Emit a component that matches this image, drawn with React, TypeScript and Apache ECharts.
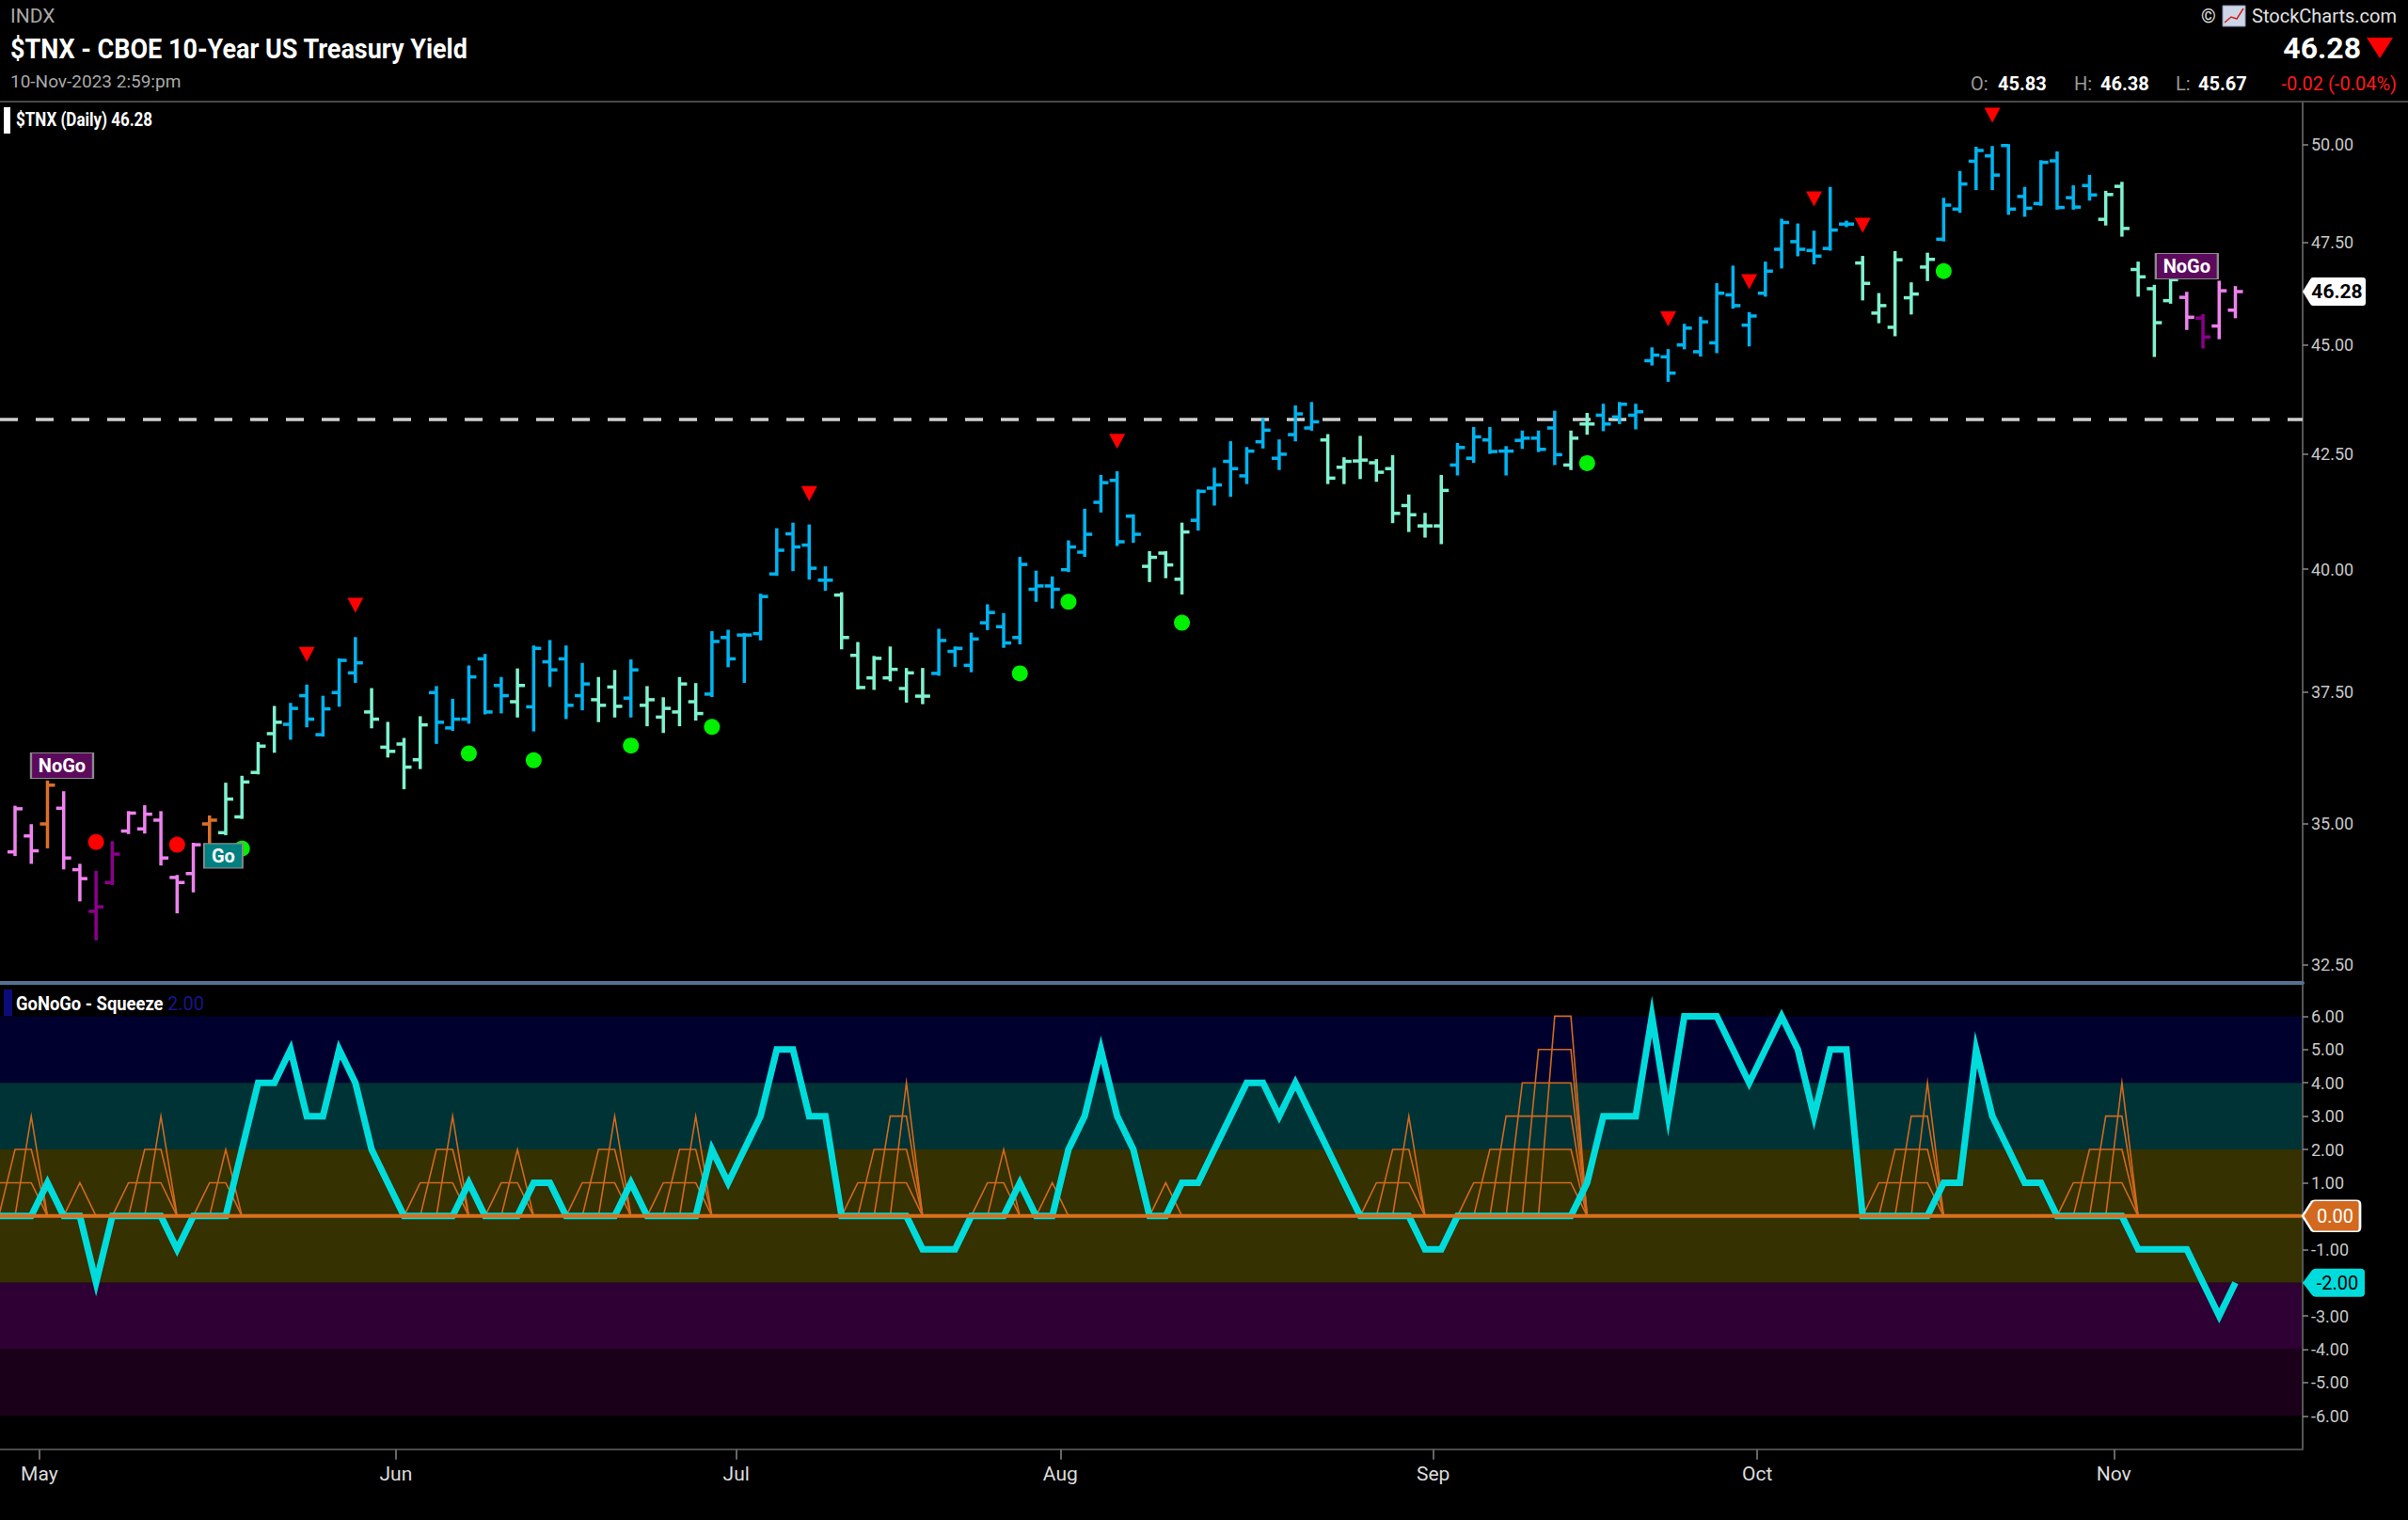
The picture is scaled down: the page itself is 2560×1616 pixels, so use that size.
import React, { useEffect, useRef } from "react";
import * as echarts from "echarts";

const FONT = "Roboto, 'Noto Sans', sans-serif";

// ---- calendar ----
const START_DATE = "2023-04-27";
const END_DATE = "2023-11-10";
const HOLIDAYS = ["2023-05-29", "2023-06-19", "2023-07-04", "2023-09-04"];
const MONTH_NAMES = ["Jan", "Feb", "Mar", "Apr", "May", "Jun", "Jul", "Aug", "Sep", "Oct", "Nov", "Dec"];

// ---- price bars (OHLC) ----
const OPEN = [
  34.48, 34.77, 34.99, 35.28, 34.16, 33.42, 33.93, 34.86, 34.90, 35.06,
  34.02, 34.09, 34.99, 34.83, 35.12, 35.95, 36.69, 36.87, 37.43, 36.67,
  37.49, 37.88, 37.11, 36.43, 36.49, 36.19, 37.49, 36.80, 36.97, 38.16,
  37.63, 37.31, 37.21, 38.10, 38.16, 37.43, 37.35, 37.60, 37.38, 37.24,
  37.01, 37.11, 37.31, 37.46, 38.59, 38.64, 38.67, 39.90, 40.75, 40.51,
  39.77, 39.46, 38.23, 37.78, 37.78, 37.57, 37.42, 37.87, 38.31, 38.03,
  38.89, 38.81, 38.59, 39.58, 39.65, 39.99, 40.36, 41.43, 41.91, 41.13,
  40.06, 40.34, 39.79, 41.04, 41.74, 42.33, 42.01, 42.77, 42.40, 42.93,
  43.08, 42.81, 42.20, 42.34, 42.30, 42.17, 41.36, 40.92, 40.92, 42.25,
  42.40, 42.81, 42.56, 42.80, 42.85, 43.08, 42.25, 43.17, 43.37, 43.33,
  43.37, 44.63, 44.72, 45.00, 44.84, 45.05, 46.20, 45.47, 46.24, 47.32,
  47.51, 47.29, 47.34, 47.95, 46.98, 45.76, 45.42, 46.13, 46.88, 47.57,
  48.33, 49.56, 49.70, 49.97, 48.65, 48.47, 49.57, 48.62, 48.93, 48.07,
  48.91, 46.82, 46.35, 46.06, 46.14, 45.64, 45.45, 45.83,
];
const HIGH = [
  35.30, 34.96, 35.77, 35.57, 34.24, 34.11, 34.65, 35.20, 35.31, 35.20,
  34.04, 34.62, 35.12, 35.73, 35.86, 36.50, 37.20, 37.26, 37.62, 37.40,
  38.14, 38.57, 37.55, 36.89, 36.58, 37.00, 37.59, 37.34, 38.00, 38.23,
  37.77, 37.94, 38.40, 38.51, 38.40, 38.05, 37.77, 37.91, 38.12, 37.59,
  37.37, 37.77, 37.65, 38.69, 38.72, 38.65, 39.46, 40.84, 40.96, 40.92,
  40.03, 39.49, 38.47, 38.19, 38.38, 37.95, 37.95, 38.74, 38.38, 38.66,
  39.24, 39.06, 40.23, 39.94, 39.82, 40.58, 41.26, 42.00, 42.08, 41.14,
  40.35, 40.35, 40.96, 41.68, 42.16, 42.75, 42.62, 43.27, 42.79, 43.56,
  43.64, 42.91, 42.39, 42.87, 42.35, 42.44, 41.57, 41.17, 42.00, 42.71,
  43.07, 43.07, 42.64, 42.99, 42.99, 43.44, 42.99, 43.39, 43.60, 43.64,
  43.60, 44.91, 44.87, 45.47, 45.64, 46.45, 46.88, 45.75, 46.98, 48.05,
  47.93, 47.75, 48.86, 48.00, 47.12, 46.21, 47.24, 46.47, 47.20, 48.58,
  49.27, 49.90, 49.92, 49.97, 48.86, 49.55, 49.78, 48.90, 49.17, 48.76,
  48.99, 46.98, 46.41, 46.64, 46.24, 45.70, 46.51, 46.38,
];
const LOW = [
  34.43, 34.29, 34.57, 34.19, 33.62, 32.94, 33.91, 34.83, 34.84, 34.26,
  33.41, 33.78, 34.63, 34.81, 35.11, 35.94, 36.35, 36.60, 36.84, 36.66,
  37.24, 37.71, 36.82, 36.26, 35.66, 36.04, 36.52, 36.77, 36.91, 37.09,
  37.11, 37.03, 36.76, 37.63, 37.00, 37.17, 36.94, 37.03, 37.03, 36.86,
  36.73, 36.86, 36.97, 37.43, 38.02, 37.71, 38.56, 39.89, 39.99, 39.81,
  39.58, 38.38, 37.58, 37.57, 37.74, 37.32, 37.29, 37.85, 38.03, 37.92,
  38.77, 38.41, 38.48, 39.35, 39.21, 39.97, 40.29, 41.24, 40.52, 40.59,
  39.76, 39.84, 39.50, 40.85, 41.39, 41.58, 41.86, 42.65, 42.17, 42.81,
  43.05, 41.86, 41.86, 41.97, 41.91, 41.01, 40.82, 40.70, 40.56, 42.05,
  42.33, 42.53, 42.05, 42.64, 42.57, 42.28, 42.17, 42.96, 43.04, 43.20,
  43.08, 44.55, 44.17, 44.93, 44.76, 44.84, 45.90, 45.00, 46.19, 46.88,
  47.18, 46.98, 47.32, 47.91, 46.10, 45.55, 45.24, 45.76, 46.57, 47.55,
  48.27, 48.85, 48.85, 48.22, 48.17, 48.45, 48.35, 48.35, 48.58, 47.95,
  47.67, 46.19, 44.75, 46.02, 45.39, 44.95, 45.17, 45.67,
];
const CLOSE = [
  35.27, 34.50, 35.71, 34.37, 34.00, 33.50, 34.44, 35.19, 35.17, 34.37,
  33.93, 34.61, 35.06, 35.45, 35.77, 36.45, 36.91, 37.18, 36.97, 37.17,
  38.13, 38.08, 36.97, 36.35, 36.05, 36.86, 36.91, 36.97, 37.80, 37.11,
  37.43, 37.63, 38.37, 37.94, 37.24, 37.66, 37.24, 37.22, 37.94, 37.35,
  37.18, 37.66, 37.08, 38.51, 38.16, 38.64, 39.43, 40.40, 40.47, 40.02,
  39.77, 38.59, 37.59, 38.17, 37.95, 37.88, 37.42, 38.53, 38.37, 38.56,
  39.10, 38.48, 40.10, 39.65, 39.58, 40.47, 40.74, 41.86, 40.58, 40.74,
  40.25, 40.09, 40.79, 41.67, 41.81, 42.17, 42.56, 43.03, 42.49, 43.40,
  43.22, 41.96, 42.33, 42.36, 42.09, 41.19, 41.16, 40.92, 41.69, 42.64,
  42.88, 42.55, 42.56, 42.85, 42.60, 42.48, 42.85, 43.17, 43.17, 43.62,
  43.45, 44.76, 44.34, 45.40, 45.55, 46.24, 45.94, 45.69, 46.78, 47.99,
  47.32, 47.15, 47.80, 47.95, 46.48, 45.94, 47.06, 46.22, 47.07, 48.43,
  48.97, 49.84, 49.20, 48.33, 48.35, 49.53, 48.37, 48.38, 48.69, 48.70,
  47.84, 46.64, 45.53, 46.57, 45.66, 45.19, 46.30, 46.28,
];
// B = strong Go (blue), A = weak Go (aqua), P = weak NoGo (pink), U = strong NoGo (purple), O = neutral (orange)
const BAR_CLASS =
  "PPOPPUUPPPPPO" + "AAAA" + "BBBBB" + "AAAA" + "BBBBB" + "A" + "BBBB" + "AA" + "B" + "AAAA" +
  "BBBBBBBB" + "AAAAAA" + "BBBBBBBBBBBBB" + "AAA" + "BBBBBBBB" + "AAAAAAAA" + "BBBBBBB" + "AA" +
  "BBBBBBBBBBBBBBBB" + "AAAAA" + "BBBBBBBBBB" + "AAAAA" + "PUPP";
const CLASS_KEYS = ["B", "A", "P", "U", "O"];
const CLASS_COLORS = ["#00b4f0", "#7ff2d0", "#ee82ee", "#8b008b", "#d9702a"];

// ---- price panel markers ----
const TRIANGLES = [[18, 38.25], [21, 39.25], [49, 41.62], [68, 42.78], [102, 45.62], [107, 46.52], [111, 48.59], [114, 47.92], [122, 50.77]];
const GO_DOTS = [[14, 34.54], [28, 36.31], [32, 36.18], [38, 36.46], [43, 36.82], [62, 37.87], [65, 39.32], [72, 38.89], [97, 42.29], [119, 46.78]];
const NOGO_DOTS = [[5, 34.66], [10, 34.61]];
const SIGNAL_X = [2.9, 12.85, 134.0];
const SIGNAL_PRICE = [36.08, 34.41, 46.9];
const SIGNAL_TEXT = ["NoGo", "Go", "NoGo"];
const DASHED_LEVEL = 43.27;
const PRICE_TICKS = [32.5, 35, 37.5, 40, 42.5, 45, 47.5, 50];

// ---- GoNoGo oscillator & squeeze ----
// values of the session before the first full bar (only its right edge is visible)
const OSC_LEAD_IN = 0;
const SQUEEZE_LEAD_IN = 1;
const OSC = [
  0, 0, 1, 0, 0, -2, 0, 0, 0, 0,
  -1, 0, 0, 0, 2, 4, 4, 5, 3, 3,
  5, 4, 2, 1, 0, 0, 0, 0, 1, 0,
  0, 0, 1, 1, 0, 0, 0, 0, 1, 0,
  0, 0, 0, 2, 1, 2, 3, 5, 5, 3,
  3, 0, 0, 0, 0, 0, -1, -1, -1, 0,
  0, 0, 1, 0, 0, 2, 3, 5, 3, 2,
  0, 0, 1, 1, 2, 3, 4, 4, 3, 4,
  3, 2, 1, 0, 0, 0, 0, -1, -1, 0,
  0, 0, 0, 0, 0, 0, 0, 1, 3, 3,
  3, 6, 3, 6, 6, 6, 5, 4, 5, 6,
  5, 3, 5, 5, 0, 0, 0, 0, 0, 1,
  1, 5, 3, 2, 1, 1, 0, 0, 0, 0,
  0, -1, -1, -1, -1, -2, -3, -2,
];
const SQUEEZE = [
  2, 3, 0, 0, 1, 0, 0, 1, 2, 3,
  0, 0, 1, 2, 0, 0, 0, 0, 0, 0,
  0, 0, 0, 0, 0, 1, 2, 3, 0, 0,
  1, 2, 0, 0, 0, 1, 2, 3, 0, 0,
  1, 2, 3, 0, 0, 0, 0, 0, 0, 0,
  0, 0, 1, 2, 3, 4, 0, 0, 0, 0,
  1, 2, 0, 0, 1, 0, 0, 0, 0, 0,
  0, 1, 0, 0, 0, 0, 0, 0, 0, 0,
  0, 0, 0, 0, 1, 2, 3, 0, 0, 0,
  1, 2, 3, 4, 5, 6, 6, 0, 0, 0,
  0, 0, 0, 0, 0, 0, 0, 0, 0, 0,
  0, 0, 0, 0, 0, 1, 2, 3, 4, 0,
  0, 0, 0, 0, 0, 0, 0, 1, 2, 3,
  4, 0, 0, 0, 0, 0, 0, 0,
];
const SQUEEZE_LEVELS = [1, 2, 3, 4, 5, 6];
const OSC_TICKS = [6, 5, 4, 3, 2, 1, 0, -1, -2, -3, -4, -5, -6];
const OSC_LABEL_TICKS = [6, 5, 4, 3, 2, 1, -1, -3, -4, -5, -6];
const BAND_LO = [4, 2, -2, -4, -6];
const BAND_HI = [6, 4, 2, -2, -4];
const BAND_COLORS = ["#00002f", "#003335", "#353100", "#2e0033", "#1a0018"];

// ---- layout ----
const X_MIN = -0.9286;
const X_MAX = 141.15;
const Y_MIN = Math.log(32.187);
const Y_MAX = Math.log(51.137);
const TAG_PATH = "path://M0,16 L9,2 Q10,0 13,0 L56,0 Q60,0 60,4 L60,28 Q60,32 56,32 L13,32 Q10,32 9,30 Z";

function buildDates(): string[] {
  const out: string[] = [];
  const d = new Date(START_DATE + "T00:00:00Z");
  const end = new Date(END_DATE + "T00:00:00Z").getTime();
  while (d.getTime() <= end) {
    const wd = d.getUTCDay();
    const s = d.toISOString().slice(0, 10);
    if (wd !== 0 && wd !== 6 && HOLIDAYS.indexOf(s) < 0) out.push(s);
    d.setUTCDate(d.getUTCDate() + 1);
  }
  return out;
}

function buildOption() {
  const dates = buildDates();
  const monthPos: number[] = [];
  const monthLabel: Record<string, string> = {};
  for (let i = 1; i < dates.length; i++) {
    const m0 = dates[i - 1].slice(5, 7);
    const m1 = dates[i].slice(5, 7);
    if (m0 !== m1) {
      const p = i - 0.5;
      monthPos.push(p);
      monthLabel[String(p)] = MONTH_NAMES[parseInt(m1, 10) - 1];
    }
  }
  const n = CLOSE.length;
  const barData = CLOSE.map((c, i) => [
    i, Math.log(OPEN[i]), Math.log(HIGH[i]), Math.log(LOW[i]), Math.log(c),
    CLASS_KEYS.indexOf(BAR_CLASS[i]),
  ]);
  const last = n - 1;
  const solid = { opacity: 1 };

  const series: any[] = [];
  // dashed resistance line
  series.push({
    type: "line", xAxisIndex: 0, yAxisIndex: 0, z: 1, silent: true, symbol: "none",
    data: [[X_MIN, Math.log(DASHED_LEVEL)], [X_MAX, Math.log(DASHED_LEVEL)]],
    lineStyle: { color: "#cfcfcf", width: 3.5, type: [19, 19] },
  });
  // OHLC bars
  series.push({
    type: "custom", xAxisIndex: 0, yAxisIndex: 0, z: 2, silent: true,
    encode: { x: 0, y: [1, 2, 3, 4] },
    data: barData,
    renderItem: (params: any, api: any) => {
      const x = api.value(0);
      const pO = api.coord([x, api.value(1)]);
      const pH = api.coord([x, api.value(2)]);
      const pL = api.coord([x, api.value(3)]);
      const pC = api.coord([x, api.value(4)]);
      const col = CLASS_COLORS[api.value(5)];
      const style = { stroke: col, lineWidth: 3.5 };
      const t = 8;
      return {
        type: "group",
        children: [
          { type: "line", shape: { x1: pH[0], y1: pH[1] - 1.5, x2: pL[0], y2: pL[1] + 1.5 }, style },
          { type: "line", shape: { x1: pO[0] - t, y1: pO[1], x2: pO[0], y2: pO[1] }, style },
          { type: "line", shape: { x1: pC[0], y1: pC[1], x2: pC[0] + t, y2: pC[1] }, style },
        ],
      };
    },
  });
  series.push({
    type: "scatter", xAxisIndex: 0, yAxisIndex: 0, z: 3, silent: true,
    symbol: "triangle", symbolRotate: 180, symbolSize: [17, 16],
    itemStyle: { color: "#ff0000", ...solid },
    data: TRIANGLES.map((d) => [d[0], Math.log(d[1])]),
  });
  series.push({
    type: "scatter", xAxisIndex: 0, yAxisIndex: 0, z: 3, silent: true,
    symbol: "circle", symbolSize: 17, itemStyle: { color: "#00f000", ...solid },
    data: GO_DOTS.map((d) => [d[0], Math.log(d[1])]),
  });
  series.push({
    type: "scatter", xAxisIndex: 0, yAxisIndex: 0, z: 3, silent: true,
    symbol: "circle", symbolSize: 17, itemStyle: { color: "#ff0000", ...solid },
    data: NOGO_DOTS.map((d) => [d[0], Math.log(d[1])]),
  });
  series.push({
    type: "scatter", xAxisIndex: 0, yAxisIndex: 0, z: 4, silent: true, clip: false,
    symbol: "rect",
    data: SIGNAL_X.map((x, i) => {
      const go = SIGNAL_TEXT[i] === "Go";
      return {
        value: [x, Math.log(SIGNAL_PRICE[i])],
        name: SIGNAL_TEXT[i],
        symbolSize: go ? [41, 26] : [66, 27],
        itemStyle: { color: go ? "#008080" : "#5c0a5c", borderColor: "#8a8a8a", borderWidth: 1.5, opacity: 1 },
      };
    }),
    label: {
      show: true, position: "inside", formatter: (p: any) => p.name,
      color: "#ffffff", fontWeight: "bold", fontSize: 20, fontFamily: FONT,
    },
  });
  // last price tag on axis
  series.push({
    type: "scatter", xAxisIndex: 0, yAxisIndex: 0, z: 6, silent: true, clip: false,
    symbol: "path://M0,15 L8,2 Q9,0 11,0 L64,0 Q67,0 67,3 L67,27 Q67,30 64,30 L11,30 Q9,30 8,28 Z",
    symbolKeepAspect: false,
    symbolSize: [67, 30], symbolOffset: [33.5, 0],
    itemStyle: { color: "#ffffff", ...solid },
    data: [[X_MAX, Math.log(CLOSE[last])]],
    label: {
      show: true, position: "inside", offset: [3, 0], formatter: () => CLOSE[last].toFixed(2),
      color: "#000000", fontWeight: "bold", fontSize: 21, fontFamily: FONT,
    },
  });

  // oscillator background bands
  series.push({
    type: "custom", xAxisIndex: 1, yAxisIndex: 1, z: 0, silent: true, clip: false,
    data: BAND_LO.map((lo, i) => [i, lo, BAND_HI[i]]),
    encode: { x: 0, y: [1, 2] },
    renderItem: (params: any, api: any) => {
      const p1 = api.coord([X_MIN, api.value(2)]);
      const p2 = api.coord([X_MAX, api.value(1)]);
      return {
        type: "rect",
        shape: { x: p1[0], y: p1[1], width: p2[0] - p1[0], height: p2[1] - p1[1] },
        style: { fill: BAND_COLORS[params.dataIndex] },
      };
    },
  });
  // squeeze grid
  const squeezeAll = [SQUEEZE_LEAD_IN].concat(SQUEEZE);
  SQUEEZE_LEVELS.forEach((k) => {
    series.push({
      type: "line", xAxisIndex: 1, yAxisIndex: 1, z: 1, silent: true, symbol: "none",
      data: squeezeAll.map((s, j) => [j - 1, s >= k ? k : 0]),
      lineStyle: { color: "#d2691e", width: 1.6, join: "miter", miterLimit: 30 },
    });
  });
  // oscillator line
  const oscAll = [OSC_LEAD_IN].concat(OSC);
  series.push({
    type: "line", xAxisIndex: 1, yAxisIndex: 1, z: 2, silent: true, symbol: "none",
    data: oscAll.map((v, j) => [j - 1, v]),
    lineStyle: { color: "#00dcdc", width: 7, join: "miter", miterLimit: 30 },
  });
  // zero line
  series.push({
    type: "line", xAxisIndex: 1, yAxisIndex: 1, z: 3, silent: true, symbol: "none",
    data: [[X_MIN, 0], [X_MAX, 0]],
    lineStyle: { color: "#d9701e", width: 4 },
  });
  // axis value tags
  series.push({
    type: "scatter", xAxisIndex: 1, yAxisIndex: 1, z: 6, silent: true, clip: false,
    symbol: TAG_PATH,
    symbolKeepAspect: false,
    data: [
      {
        value: [X_MAX, 0], name: "0.00", symbolSize: [61, 33], symbolOffset: [30.5, 0],
        itemStyle: { color: "#d2691e", borderColor: "#ffffff", borderWidth: 2, opacity: 1 },
        label: { color: "#ffffff" },
      },
      {
        value: [X_MAX, OSC[last]], name: OSC[last].toFixed(2), symbolSize: [66, 30], symbolOffset: [33, 0],
        itemStyle: { color: "#00dcdc", opacity: 1 },
        label: { color: "#000000" },
      },
    ],
    label: {
      show: true, position: "inside", offset: [4, 0], formatter: (p: any) => p.name,
      fontSize: 20, fontFamily: FONT,
    },
  });

  const txt = (x: number, y: number, text: string, size: number, fill: string, opts: any = {}) => ({
    type: "text", x, y, scaleX: opts.scaleX || 1, silent: true,
    style: {
      text, fill, fontSize: size, fontFamily: FONT, fontWeight: opts.bold ? "bold" : "normal",
      align: opts.align || "left", textAlign: opts.align || "left",
      verticalAlign: "middle", textVerticalAlign: "middle",
    },
  });

  const graphic: any[] = [
    { type: "rect", silent: true, shape: { x: 0, y: 107, width: 2560, height: 2 }, style: { fill: "#4a4a4a" } },
    txt(11, 17, "INDX", 21, "#a9a9a9"),
    txt(11, 52, "$TNX - CBOE 10-Year US Treasury Yield", 30, "#ffffff", { bold: true, scaleX: 0.9 }),
    txt(11, 86, "10-Nov-2023 2:59:pm", 19, "#a9a9a9"),
    { type: "rect", silent: true, shape: { x: 4, y: 114, width: 7, height: 28 }, style: { fill: "#ffffff" } },
    txt(17, 128, "$TNX (Daily) " + CLOSE[last].toFixed(2), 20, "#ffffff", { bold: true, scaleX: 0.85 }),
    { type: "rect", silent: true, shape: { x: 4, y: 1052, width: 9, height: 28 }, style: { fill: "#0c0c78" } },
    txt(17, 1067, "GoNoGo - Squeeze", 20, "#ffffff", { bold: true, scaleX: 0.92 }),
    txt(178, 1067, "2.00", 20, "#16168a"),
    txt(2340, 17, "©", 20, "#e0e0e0"),
    { type: "rect", silent: true, shape: { x: 2363, y: 6, width: 24, height: 22 }, style: { fill: "#cdd6e6", stroke: "#8a96b0", lineWidth: 1 } },
    { type: "polyline", silent: true, shape: { points: [[2365, 24], [2372, 18], [2378, 20], [2385, 9]] }, style: { stroke: "#d02020", lineWidth: 1.5, fill: "none" } },
    txt(2548, 17, "StockCharts.com", 20, "#e0e0e0", { align: "right" }),
    txt(2510, 51, CLOSE[last].toFixed(2), 32, "#ffffff", { bold: true, align: "right" }),
    { type: "polygon", silent: true, shape: { points: [[2516, 40], [2544, 40], [2530, 62]] }, style: { fill: "#ff0000" } },
    txt(2095, 89, "O:", 20, "#9a9a9a"),
    txt(2124, 89, OPEN[last].toFixed(2), 20, "#ffffff", { bold: true }),
    txt(2205, 89, "H:", 20, "#9a9a9a"),
    txt(2233, 89, HIGH[last].toFixed(2), 20, "#ffffff", { bold: true }),
    txt(2313, 89, "L:", 20, "#9a9a9a"),
    txt(2337, 89, LOW[last].toFixed(2), 20, "#ffffff", { bold: true }),
    txt(2548, 89, "-0.02 (-0.04%)", 20, "#ff1a1a", { align: "right" }),
  ];

  return {
    animation: false,
    backgroundColor: "#000000",
    textStyle: { fontFamily: FONT },
    grid: [
      { left: 0, top: 108, width: 2448, height: 937 },
      { left: 0, top: 1045, width: 2448, height: 495.7 },
    ],
    xAxis: [
      {
        type: "value", gridIndex: 0, min: X_MIN, max: X_MAX,
        axisLine: { show: true, onZero: false, lineStyle: { color: "#56718f", width: 4 } },
        axisTick: { show: false }, axisLabel: { show: false }, splitLine: { show: false },
      },
      {
        type: "value", gridIndex: 1, min: X_MIN, max: X_MAX,
        axisLine: { show: true, onZero: false, lineStyle: { color: "#4a4a4a", width: 2 } },
        axisTick: { show: true, customValues: monthPos, length: 11, lineStyle: { color: "#666666", width: 2 } },
        axisLabel: {
          show: true, customValues: monthPos, formatter: (v: number) => monthLabel[String(v)] || "",
          color: "#dcdcdc", fontSize: 21, margin: 16, fontFamily: FONT,
        },
        splitLine: { show: false },
      },
    ],
    yAxis: [
      {
        type: "value", gridIndex: 0, position: "right", min: Y_MIN, max: Y_MAX,
        axisLine: { show: true, onZero: false, lineStyle: { color: "#555555", width: 2 } },
        axisTick: { show: true, customValues: PRICE_TICKS.map(Math.log), length: 6, lineStyle: { color: "#888888", width: 1.5 } },
        axisLabel: {
          show: true, customValues: PRICE_TICKS.map(Math.log),
          formatter: (v: number) => Math.exp(v).toFixed(2),
          color: "#c8c8c8", fontSize: 18, margin: 9, fontFamily: FONT,
        },
        splitLine: { show: false },
      },
      {
        type: "value", gridIndex: 1, position: "right", min: -7, max: 7, interval: 1,
        axisLine: { show: true, onZero: false, lineStyle: { color: "#555555", width: 2 } },
        axisTick: { show: true, customValues: OSC_TICKS, length: 6, lineStyle: { color: "#888888", width: 1.5 } },
        axisLabel: {
          show: true, customValues: OSC_LABEL_TICKS, formatter: (v: number) => v.toFixed(2),
          color: "#c8c8c8", fontSize: 18, margin: 9, fontFamily: FONT,
        },
        splitLine: { show: false },
      },
    ],
    series,
    graphic,
  };
}

export default function App() {
  const ref = useRef<HTMLDivElement>(null);
  useEffect(() => {
    document.body.style.margin = "0";
    document.body.style.background = "#000";
    const chart = echarts.init(ref.current as HTMLDivElement, undefined, { renderer: "svg" });
    chart.setOption(buildOption() as any);
    return () => chart.dispose();
  }, []);
  return (
    <div
      ref={ref}
      style={{ position: "fixed", left: 0, top: 0, width: 2560, height: 1616, background: "#000" }}
    />
  );
}
